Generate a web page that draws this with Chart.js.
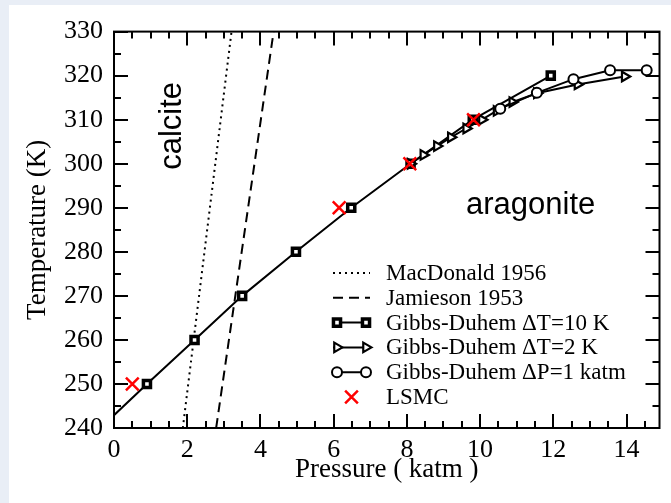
<!DOCTYPE html>
<html lang="en">
<head>
<meta charset="UTF-8">
<title>Calcite - aragonite coexistence line</title>
<script src="https://cdn.jsdelivr.net/npm/chart.js"></script>
<style>
  html, body { margin: 0; padding: 0; background: #e9eef6; }
  #card { position: absolute; left: 9px; top: 5px; width: 662px; height: 498px; background: #fff; }
  canvas { display: block; }
</style>
</head>
<body>
<div id="card"><canvas id="phaseChart" width="662" height="498"></canvas></div>
<script>
// pressure in katm, temperature in K
const macdonaldP = [1.88, 3.21];
const macdonaldT = [240, 330];
const jamiesonP = [2.79, 4.36];
const jamiesonT = [240, 330];

// Gibbs-Duhem, dT = 10 K (first entry: line carried back to P = 0)
const gd10P = [0, 0.90, 2.20, 3.50, 4.97, 6.48, 8.10, 9.80, 11.93];
const gd10T = [242.9, 250, 260, 270, 280, 290, 300, 310, 320];

// Gibbs-Duhem, dT = 2 K
const gd2P = [8.10, 8.45, 8.82, 9.20, 9.62, 10.05, 10.45, 10.88, 11.55, 12.66, 13.95];
const gd2T = [300, 302, 304, 306, 308, 310, 312, 314, 316, 318, 319.8];

// Gibbs-Duhem, dP = 1 katm
const gdPP = [10.55, 11.55, 12.55, 13.55, 14.55];
const gdPT = [312.5, 316.1, 319.2, 321.2, 321.2];

// LSMC
const lsmcP = [0.50, 6.15, 8.08, 9.82];
const lsmcT = [250, 290, 300, 310];

const xTicks = [0, 2, 4, 6, 8, 10, 12, 14];
const yTicks = [240, 250, 260, 270, 280, 290, 300, 310, 320, 330];

const SERIF = "'Liberation Serif', 'Times New Roman', serif";
const SANS = "'Liberation Sans', Arial, sans-serif";
const RED = '#ff0000';

const pts = (xs, ys) => xs.map((x, i) => ({ x: x, y: ys[i] }));

const styles = {
  square:   { pointStyle: 'rect', radius: 5, rotation: 0, borderWidth: 3.5 },
  triangle: { pointStyle: 'triangle', radius: 5.5, rotation: 90, borderWidth: 2.2 },
  circle:   { pointStyle: 'circle', radius: 5, rotation: 0, borderWidth: 2 },
  cross:    { pointStyle: 'crossRot', radius: 9, rotation: 0, borderWidth: 2.5 }
};

function lineSet(label, data, dash, mark, order) {
  const s = styles[mark] || { radius: 0 };
  return {
    label: label,
    data: data,
    showLine: true,
    borderColor: '#000',
    backgroundColor: '#fff',
    borderWidth: 2,
    borderDash: dash,
    tension: 0,
    pointStyle: s.pointStyle,
    pointRotation: s.rotation,
    pointRadius: s.radius,
    pointBorderWidth: s.borderWidth,
    pointBorderColor: '#000',
    pointBackgroundColor: '#fff',
    order: order
  };
}

const ds10 = lineSet('Gibbs-Duhem \u0394T=10 K', pts(gd10P, gd10T), [], 'square', 3);
// no marker on the extrapolated start
ds10.pointRadius = c => c.dataIndex === 0 ? 0 : styles.square.radius;

const datasets = [
  {
    label: 'LSMC',
    data: pts(lsmcP, lsmcT),
    showLine: false,
    pointStyle: 'crossRot',
    pointRadius: styles.cross.radius,
    pointBorderWidth: styles.cross.borderWidth,
    pointBorderColor: RED,
    borderColor: RED,
    order: 0
  },
  lineSet('MacDonald 1956', pts(macdonaldP, macdonaldT), [2, 4], null, 6),
  lineSet('Jamieson 1953', pts(jamiesonP, jamiesonT), [10, 6], null, 5),
  ds10,
  lineSet('Gibbs-Duhem \u0394T=2 K', pts(gd2P, gd2T), [], 'triangle', 2),
  lineSet('Gibbs-Duhem \u0394P=1 katm', pts(gdPP, gdPT), [], 'circle', 1)
];

// legend rows: label, dash, marker at both ends
const legendRows = [
  ['MacDonald 1956', [2, 4], null],
  ['Jamieson 1953', [10, 6], null],
  ['Gibbs-Duhem \u0394T=10 K', [], 'square'],
  ['Gibbs-Duhem \u0394T=2 K', [], 'triangle'],
  ['Gibbs-Duhem \u0394P=1 katm', [], 'circle'],
  ['LSMC', null, 'cross']
];

function mark(ctx, name, x, y) {
  const s = styles[name];
  ctx.save();
  ctx.setLineDash([]);
  ctx.lineWidth = s.borderWidth;
  ctx.strokeStyle = name === 'cross' ? RED : '#000';
  ctx.fillStyle = '#fff';
  Chart.helpers.drawPoint(ctx, s, x, y);
  ctx.restore();
}

const frame = {
  id: 'frame',
  afterDatasetsDraw(chart) {
    const { ctx, chartArea: a, scales: { x, y } } = chart;
    ctx.save();
    ctx.strokeStyle = '#000';
    ctx.lineWidth = 2;
    ctx.setLineDash([]);
    ctx.strokeRect(a.left, a.top, a.right - a.left, a.bottom - a.top);
    ctx.beginPath();
    for (let v = 0; v <= x.max; v += 0.5) {
      const px = Math.round(x.getPixelForValue(v));
      const len = v % 2 === 0 ? 14 : 7;
      ctx.moveTo(px, a.bottom); ctx.lineTo(px, a.bottom - len);
      ctx.moveTo(px, a.top); ctx.lineTo(px, a.top + len);
    }
    for (let v = y.min; v <= y.max; v += 5) {
      const py = Math.round(y.getPixelForValue(v));
      const len = v % 10 === 0 ? 14 : 7;
      ctx.moveTo(a.left, py); ctx.lineTo(a.left + len, py);
      ctx.moveTo(a.right, py); ctx.lineTo(a.right - len, py);
    }
    ctx.stroke();

    // phase labels
    ctx.fillStyle = '#000';
    ctx.font = '31px ' + SANS;
    ctx.textAlign = 'center';
    ctx.textBaseline = 'alphabetic';
    ctx.fillText('aragonite', x.getPixelForValue(11.38), y.getPixelForValue(288.5));
    ctx.translate(x.getPixelForValue(1.83), y.getPixelForValue(308.6));
    ctx.rotate(-Math.PI / 2);
    ctx.fillText('calcite', 0, 0);
    ctx.restore();
  },
  afterDraw(chart) {
    const { ctx } = chart;
    const x1 = 324, x2 = 361, tx = 377;
    ctx.save();
    ctx.font = '23px ' + SERIF;
    ctx.textAlign = 'left';
    ctx.textBaseline = 'middle';
    legendRows.forEach((row, i) => {
      const yy = 268 + i * 24.8;
      const [label, dash, m] = row;
      if (dash) {
        ctx.setLineDash(dash);
        ctx.strokeStyle = '#000';
        ctx.lineWidth = 2;
        ctx.beginPath();
        ctx.moveTo(x1, yy); ctx.lineTo(x2, yy);
        ctx.stroke();
        if (m) { mark(ctx, m, x1 + 4, yy); mark(ctx, m, x2 - 4, yy); }
      } else if (m) {
        mark(ctx, m, (x1 + x2) / 2, yy);
      }
      ctx.setLineDash([]);
      ctx.fillStyle = '#000';
      ctx.fillText(label, tx, yy + 1);
    });
    ctx.restore();
  }
};

new Chart(document.getElementById('phaseChart'), {
  type: 'scatter',
  data: { datasets: datasets },
  options: {
    responsive: false,
    animation: false,
    layout: { padding: { left: 0, right: 10, top: 18, bottom: 0 } },
    plugins: { legend: { display: false }, tooltip: { enabled: false } },
    scales: {
      x: {
        type: 'linear',
        min: 0,
        max: 14.9,
        grid: { display: false, drawTicks: false },
        border: { display: false },
        afterBuildTicks: s => { s.ticks = xTicks.map(v => ({ value: v })); },
        afterFit: s => { s.height = 75; },
        ticks: { color: '#000', padding: 7, font: { family: SERIF, size: 26 } },
        title: {
          display: true,
          text: 'Pressure ( katm )',
          color: '#000',
          font: { family: SERIF, size: 27 },
          padding: { top: 0, bottom: 17 }
        }
      },
      y: {
        type: 'linear',
        min: 240,
        max: 330,
        grid: { display: false, drawTicks: false },
        border: { display: false },
        afterBuildTicks: s => { s.ticks = yTicks.map(v => ({ value: v })); },
        afterFit: s => { s.width = 105; },
        ticks: { color: '#000', padding: 11, font: { family: SERIF, size: 26 } },
        title: {
          display: true,
          text: 'Temperature (K)',
          color: '#000',
          font: { family: SERIF, size: 27 },
          padding: { top: 13, bottom: 0 }
        }
      }
    }
  },
  plugins: [frame]
});
</script>
</body>
</html>
